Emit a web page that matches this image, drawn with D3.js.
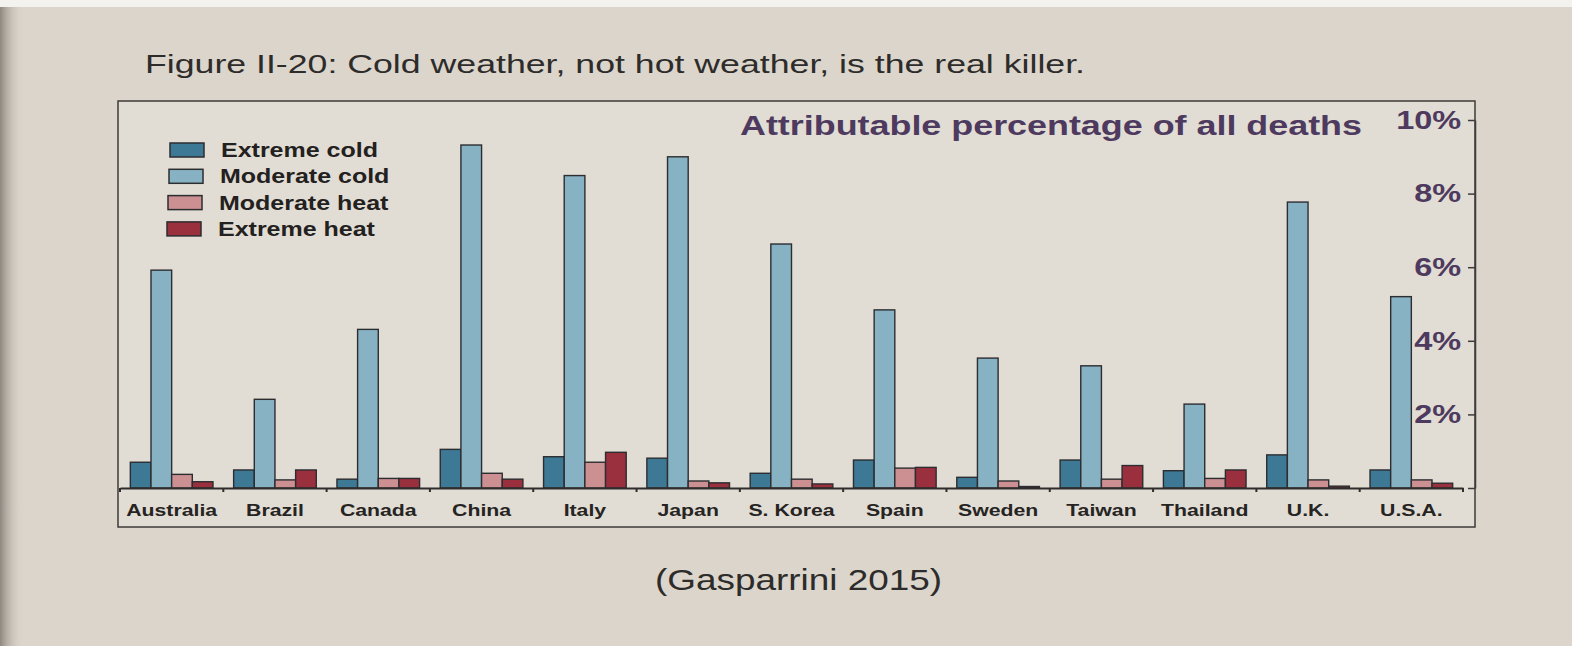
<!DOCTYPE html>
<html>
<head>
<meta charset="utf-8">
<script src="https://cdn.jsdelivr.net/npm/d3@7"></script>
<style>
body { margin:0; background:#dbd5cc; }
svg { display:block; font-family:"Liberation Sans", Arial, sans-serif; }
</style>
</head>
<body>
<div id="chart"></div>
<script>
// data (attributable % of all deaths)
let categories = ["Australia","Brazil","Canada","China","Italy","Japan","S. Korea","Spain","Sweden","Taiwan","Thailand","U.K.","U.S.A."];
let seriesNames = ["Extreme cold","Moderate cold","Moderate heat","Extreme heat"];
let extremeCold  = [0.70,0.49,0.24,1.05,0.85,0.81,0.40,0.76,0.29,0.76,0.47,0.90,0.49];
let moderateCold = [5.92,2.41,4.31,9.32,8.49,9.00,6.63,4.84,3.53,3.32,2.28,7.77,5.20];
let moderateHeat = [0.37,0.22,0.26,0.40,0.70,0.19,0.24,0.54,0.19,0.24,0.26,0.22,0.22];
let extremeHeat  = [0.17,0.49,0.26,0.24,0.97,0.14,0.11,0.56,0.04,0.61,0.49,0.05,0.13];
let yTicks = [0,2,4,6,8,10];

let seriesColors = ["#3d7895","#87b2c3","#cc9093","#9a2f3e"];

let svgWidth = 1572;
let svgHeight = 646;

// the printed type is wide, stretch text horizontally
let stretch = 1.25;

let svg = d3.select("#chart")
.append("svg")
.attr("width",svgWidth)
.attr("height",svgHeight);

// page background, gutter shading
let defs = svg.append("defs");
let grad = defs.append("linearGradient").attr("id","gutter");
grad.append("stop").attr("offset","0%").attr("stop-color","#8f8880");
grad.append("stop").attr("offset","100%").attr("stop-color","#dbd5cc").attr("stop-opacity",0);
svg.append("rect").attr("width",svgWidth).attr("height",svgHeight).attr("fill","#dbd5cc");
svg.append("rect").attr("width",24).attr("height",svgHeight).attr("fill","url(#gutter)");
svg.append("rect").attr("width",svgWidth).attr("height",7).attr("fill","#f4f2ee");

// figure title
svg.append("text")
.attr("x",145)
.attr("y",73)
.attr("font-size","25px")
.attr("fill","#2e2c2a")
.attr("textLength",940)
.attr("lengthAdjust","spacingAndGlyphs")
.text("Figure II-20: Cold weather, not hot weather, is the real killer.");

// chart frame
svg.append("rect")
.attr("x",118)
.attr("y",101)
.attr("width",1357)
.attr("height",426)
.attr("fill","#e1dcd4")
.attr("stroke","#3e3b38")
.attr("stroke-width",1.5);

// scales
let x0 = d3.scaleBand()
.domain(categories)
.range([120,1463])
.paddingInner(0.2)
.paddingOuter(0.1);

let x1 = d3.scaleBand()
.domain(seriesNames)
.range([0,x0.bandwidth()]);

let y = d3.scaleLinear()
.domain([0,10])
.range([488,120]);

let allSeries = [extremeCold,moderateCold,moderateHeat,extremeHeat];

// bars
let groups = svg.append("g").selectAll("g")
.data(categories)
.enter()
.append("g")
.attr("transform",d => `translate(${x0(d)},0)`);

groups.selectAll("rect")
.data((d,i) => seriesNames.map((s,j) => ({series:s, value:allSeries[j][i], color:seriesColors[j]})))
.enter()
.append("rect")
.attr("x",d => x1(d.series))
.attr("y",d => y(d.value))
.attr("width",x1.bandwidth())
.attr("height",d => y(0) - y(d.value))
.attr("fill",d => d.color)
.attr("stroke","#2c2d30")
.attr("stroke-width",1.4);

// x axis with country labels
let xAxis = svg.append("g")
.attr("transform",`translate(0,${y(0)})`)
.call(d3.axisBottom(x0).tickSize(0).tickSizeOuter(0).tickPadding(16));

xAxis.select(".domain").attr("stroke","#2f2d2b").attr("stroke-width",2.2);
xAxis.selectAll("text")
.attr("font-size","17px")
.attr("font-weight","bold")
.attr("fill","#262422")
.attr("transform",`scale(${stretch},1)`);

// little separators between the country groups
let step = x0.step();
xAxis.selectAll(".sep")
.data(d3.range(categories.length + 1))
.enter()
.append("line")
.attr("class","sep")
.attr("x1",i => 120 + i*step)
.attr("x2",i => 120 + i*step)
.attr("y1",0)
.attr("y2",4)
.attr("stroke","#2f2d2b")
.attr("stroke-width",2);

// y axis on the right edge, ticks pointing in
let yAxis = svg.append("g")
.attr("transform","translate(1475,0)")
.call(d3.axisLeft(y).tickValues(yTicks).tickSize(7).tickSizeOuter(0).tickPadding(4)
  .tickFormat(d => d ? d + "%" : ""));

yAxis.select(".domain").attr("stroke","#3e3b38").attr("stroke-width",1.5);
yAxis.selectAll("line").attr("stroke","#3e3b38").attr("stroke-width",1.5);
yAxis.selectAll("text")
.attr("font-size","26px")
.attr("font-weight","bold")
.attr("fill","#4d3a5e")
.attr("transform",`scale(${stretch},1)`);

// axis title inside the frame
svg.append("text")
.attr("x",740)
.attr("y",135)
.attr("font-size","27px")
.attr("font-weight","bold")
.attr("fill","#4d3a5e")
.attr("textLength",622)
.attr("lengthAdjust","spacingAndGlyphs")
.text("Attributable percentage of all deaths");

// legend
let legend = svg.append("g").selectAll("g")
.data(seriesNames)
.enter()
.append("g")
.attr("transform",(d,i) => `translate(${170 - i},${143 + i*26.3})`);

legend.append("rect")
.attr("width",34)
.attr("height",14)
.attr("fill",(d,i) => seriesColors[i])
.attr("stroke","#2c2d30")
.attr("stroke-width",1.5);

legend.append("text")
.attr("transform",`translate(51,14) scale(${stretch},1)`)
.attr("font-size","20px")
.attr("font-weight","bold")
.attr("fill","#232120")
.text(d => d);

// source note
svg.append("text")
.attr("x",655)
.attr("y",590)
.attr("font-size","30px")
.attr("fill","#2e2c2a")
.attr("textLength",287)
.attr("lengthAdjust","spacingAndGlyphs")
.text("(Gasparrini 2015)");
</script>
</body>
</html>
